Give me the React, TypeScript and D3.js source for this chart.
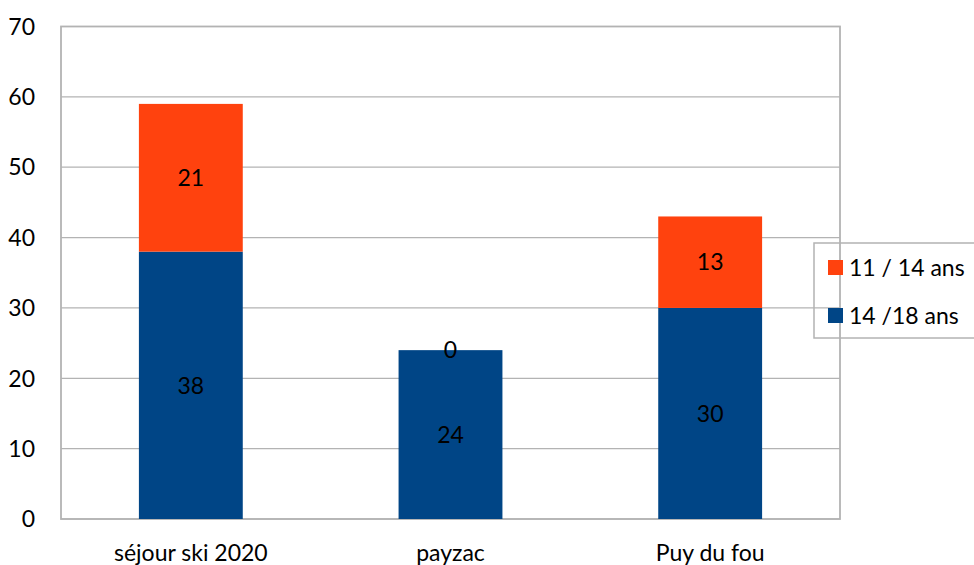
import React from "react";
import * as d3 from "d3";

const categories = ["séjour ski 2020", "payzac", "Puy du fou"];
const seriesNames = ["14 /18 ans", "11 / 14 ans"];
const young = [38, 24, 30]; // 14 /18 ans (bottom)
const old = [21, 0, 13]; // 11 / 14 ans (top)
const yTicks = [0, 10, 20, 30, 40, 50, 60, 70];
const colors = ["#004586", "#ff420e"];

const W = 974, H = 565;
const m = { left: 61, right: 840, top: 26.5, bottom: 519 };
const FONT = "Lato, 'Open Sans', sans-serif";
const FS = 23;

export default function App() {
  const x = d3.scaleBand().domain(categories).range([m.left, m.right]).paddingInner(0.6).paddingOuter(0.3);
  const y = d3.scaleLinear().domain([0, 70]).range([m.bottom, m.top]);
  const data = categories.map((c, i) => ({ cat: c, a: young[i], b: old[i] }));
  const stack = d3.stack<any>().keys(["a", "b"])(data);
  return (
    <svg width={W} height={H} style={{ position: "absolute", left: 0, top: 0, background: "#fff" }}>
      {yTicks.map((t) => (
        <g key={t}>
          <line x1={m.left} x2={m.right} y1={y(t)} y2={y(t)} stroke="#b3b3b3" strokeWidth={1.2} />
          <text x={35} y={y(t)} dy="0.36em" textAnchor="end" fontFamily={FONT} fontSize={FS} fill="#000">{t}</text>
        </g>
      ))}
      <rect x={m.left} y={m.top} width={m.right - m.left} height={m.bottom - m.top} fill="none" stroke="#b3b3b3" strokeWidth={1.8} />
      {stack.map((s, si) =>
        s.map((d, i) => (
          <g key={si + "-" + i}>
            <rect x={x(categories[i])} y={y(d[1])} width={x.bandwidth()} height={y(d[0]) - y(d[1])} fill={colors[si]} />
          </g>
        ))
      )}
      {stack.map((s, si) =>
        s.map((d, i) => (
          <text key={"t" + si + "-" + i} x={(x(categories[i]) as number) + x.bandwidth() / 2} y={(y(d[0]) + y(d[1])) / 2} dy="0.36em" textAnchor="middle" fontFamily={FONT} fontSize={FS} fill="#000">
            {d[1] - d[0]}
          </text>
        ))
      )}
      {categories.map((c) => (
        <text key={c} x={(x(c) as number) + x.bandwidth() / 2} y={553} dy="0.36em" textAnchor="middle" fontFamily={FONT} fontSize={FS} fill="#000">{c}</text>
      ))}
      <rect x={814} y={243} width={170} height={95} fill="none" stroke="#b3b3b3" strokeWidth={1.5} />
      {[1, 0].map((si, k) => (
        <g key={si}>
          <rect x={828} y={260 + k * 48} width={15} height={15} fill={colors[si]} />
          <text x={849} y={267.5 + k * 48} dy="0.36em" fontFamily={FONT} fontSize={FS} fill="#000">{seriesNames[si]}</text>
        </g>
      ))}
    </svg>
  );
}
